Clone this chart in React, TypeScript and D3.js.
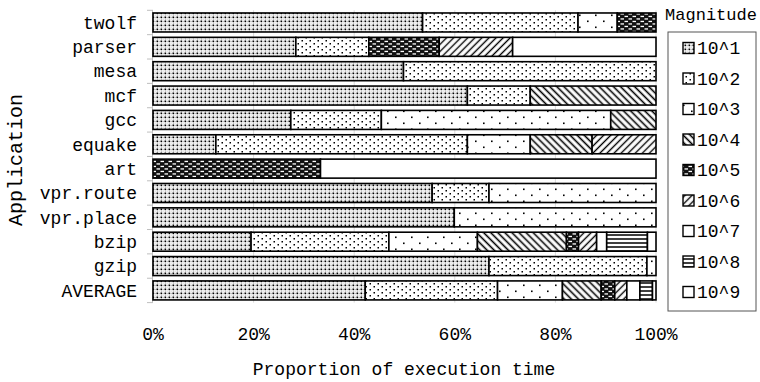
import React from "react";
import * as d3 from "d3";

// Applications, top to bottom
const apps = ["twolf", "parser", "mesa", "mcf", "gcc", "equake", "art", "vpr.route", "vpr.place", "bzip", "gzip", "AVERAGE"];

// Magnitude classes (legend order)
const magnitudes = ["10^1", "10^2", "10^3", "10^4", "10^5", "10^6", "10^7", "10^8", "10^9"];

// Share of execution time (%) per magnitude, one value per application
const mag1 = [53.6, 28.4, 49.8, 62.5, 27.4, 12.5, 0, 55.5, 59.9, 19.5, 66.8, 42.2];
const mag2 = [30.9, 14.5, 50.2, 12.5, 18.0, 50.0, 0, 11.3, 0, 27.4, 31.4, 26.3];
const mag3 = [7.8, 0, 0, 0, 45.6, 12.5, 0, 33.2, 40.1, 17.6, 1.8, 12.9];
const mag4 = [0, 0, 0, 25.0, 9.0, 12.3, 0, 0, 0, 17.7, 0, 7.7];
const mag5 = [7.7, 14.0, 0, 0, 0, 0, 33.3, 0, 0, 2.4, 0, 2.7];
const mag6 = [0, 14.6, 0, 0, 0, 12.7, 0, 0, 0, 3.6, 0, 2.4];
const mag7 = [0, 28.5, 0, 0, 0, 0, 66.7, 0, 0, 2.0, 0, 2.6];
const mag8 = [0, 0, 0, 0, 0, 0, 0, 0, 0, 8.1, 0, 2.5];
const mag9 = [0, 0, 0, 0, 0, 0, 0, 0, 0, 1.7, 0, 0.7];

const xTicks = [0, 20, 40, 60, 80, 100];

const series = [mag1, mag2, mag3, mag4, mag5, mag6, mag7, mag8, mag9];

const FONT = "'Liberation Mono', 'DejaVu Sans Mono', monospace";

function Patterns() {
  return (
    <defs>
      {/* 10^1: dense dotted grid */}
      <pattern id="p1" width="4" height="4" patternUnits="userSpaceOnUse">
        <rect width="4" height="4" fill="#fff" />
        <rect x="0.5" y="0.5" width="1.6" height="1.6" fill="#000" />
        <rect x="2.6" y="0.8" width="1" height="1" fill="#888" />
        <rect x="0.8" y="2.6" width="1" height="1" fill="#888" />
        <rect x="2.6" y="2.6" width="1" height="1" fill="#bbb" />
      </pattern>
      {/* 10^2: medium scattered dots */}
      <pattern id="p2" width="8" height="6" patternUnits="userSpaceOnUse">
        <rect width="8" height="6" fill="#fff" />
        <rect x="1.5" y="1" width="1.5" height="1.5" fill="#000" />
        <rect x="5.5" y="4" width="1.5" height="1.5" fill="#000" />
      </pattern>
      {/* 10^3: sparse dots */}
      <pattern id="p3" width="16" height="12" patternUnits="userSpaceOnUse">
        <rect width="16" height="12" fill="#fff" />
        <rect x="3" y="2.5" width="1.6" height="1.6" fill="#000" />
        <rect x="11" y="8.5" width="1.6" height="1.6" fill="#000" />
      </pattern>
      {/* 10^4: dense backslash diagonals */}
      <pattern id="p4" width="5" height="5" patternUnits="userSpaceOnUse" patternTransform="rotate(45)">
        <rect width="5" height="5" fill="#fff" />
        <line x1="0" y1="2.5" x2="5" y2="2.5" stroke="#000" strokeWidth="1.6" />
      </pattern>
      {/* 10^5: dark with light dashes */}
      <pattern id="p5" width="8" height="5" patternUnits="userSpaceOnUse">
        <rect width="8" height="5" fill="#111" />
        <rect x="0.5" y="0.8" width="3.5" height="1.3" fill="#fff" />
        <rect x="4.5" y="3.3" width="3.5" height="1.3" fill="#fff" />
      </pattern>
      {/* 10^6: forward slash diagonals */}
      <pattern id="p6" width="5" height="5" patternUnits="userSpaceOnUse" patternTransform="rotate(-45)">
        <rect width="5" height="5" fill="#fff" />
        <line x1="0" y1="2.5" x2="5" y2="2.5" stroke="#000" strokeWidth="1.4" />
      </pattern>
      {/* 10^8: horizontal lines */}
      <pattern id="p8" width="4" height="4" patternUnits="userSpaceOnUse" y="1">
        <rect width="4" height="4" fill="#fff" />
        <line x1="0" y1="2" x2="4" y2="2" stroke="#000" strokeWidth="1.5" />
      </pattern>
    </defs>
  );
}

const fills = ["url(#p1)", "url(#p2)", "url(#p3)", "url(#p4)", "url(#p5)", "url(#p6)", "#fff", "url(#p8)", "#fff"];

export default function App() {
  const width = 760;
  const height = 382;

  const x = d3.scaleLinear().domain([0, 100]).range([153, 656]);
  const y = d3.scaleBand<string>().domain(apps).range([10.3, 302.6]).paddingInner(0.22).paddingOuter(0.11);

  const rows = apps.map((app, i) => {
    const r: Record<string, number | string> = { app };
    magnitudes.forEach((m, k) => (r[m] = series[k][i]));
    return r;
  });
  const stacked = d3.stack<Record<string, number | string>>().keys(magnitudes)(rows as any);

  const step = y.step();
  const top = y.range()[0];
  const bottom = y.range()[1];

  const legendX = 668;
  const legendY = 32;
  const legendStep = 30.5;

  return (
    <svg width={width} height={height} style={{ position: "absolute", left: 0, top: 0, background: "#fff" }}>
      <Patterns />
      {/* vertical gridlines */}
      {xTicks.slice(1).map((t) => (
        <line key={t} x1={x(t)} x2={x(t)} y1={top} y2={bottom} stroke="#d9d9d9" strokeWidth={1} />
      ))}
      {/* category axis */}
      <line x1={x(0) - 0.5} x2={x(0) - 0.5} y1={top} y2={bottom} stroke="#bfbfbf" />
      {d3.range(apps.length + 1).map((i) => (
        <line key={i} x1={x(0) - 6} x2={x(0)} y1={top + i * step} y2={top + i * step} stroke="#bfbfbf" />
      ))}
      {/* stacked bars */}
      {stacked.map((layer, k) => (
        <g key={magnitudes[k]}>
          {layer.map((d, i) =>
            d[1] - d[0] > 0 ? (
              <rect
                key={i}
                x={x(d[0])}
                y={y(apps[i])}
                width={x(d[1]) - x(d[0])}
                height={y.bandwidth()}
                fill={fills[k]}
                stroke="#000"
                strokeWidth={1.6}
              />
            ) : null
          )}
        </g>
      ))}
      {/* category labels */}
      {apps.map((a) => (
        <text key={a} x={137} y={(y(a) as number) + y.bandwidth() / 2} dy="0.35em" textAnchor="end" fontFamily={FONT} fontSize={18} fill="#000">
          {a}
        </text>
      ))}
      {/* value tick labels */}
      {xTicks.map((t) => (
        <text key={t} x={x(t)} y={340} textAnchor="middle" fontFamily={FONT} fontSize={18} fill="#000">
          {`${t}%`}
        </text>
      ))}
      <text x={404} y={375} textAnchor="middle" fontFamily={FONT} fontSize={18} fill="#000">
        Proportion of execution time
      </text>
      <text transform="translate(22,160) rotate(-90)" textAnchor="middle" fontFamily={FONT} fontSize={20} fill="#000">
        Application
      </text>
      {/* legend */}
      <text x={711} y={20} textAnchor="middle" fontFamily={FONT} fontSize={17} fill="#000">
        Magnitude
      </text>
      <rect x={legendX} y={legendY} width={88} height={279} fill="#fff" stroke="#555" strokeWidth={1} />
      {magnitudes.map((m, k) => {
        const cy = legendY + 16 + k * legendStep;
        return (
          <g key={m}>
            <rect x={683} y={cy - 5.5} width={11} height={11} fill={fills[k]} stroke="#000" strokeWidth={1.4} />
            <text x={697} y={cy} dy="0.35em" fontFamily={FONT} fontSize={18} fill="#000">
              {m}
            </text>
          </g>
        );
      })}
    </svg>
  );
}
